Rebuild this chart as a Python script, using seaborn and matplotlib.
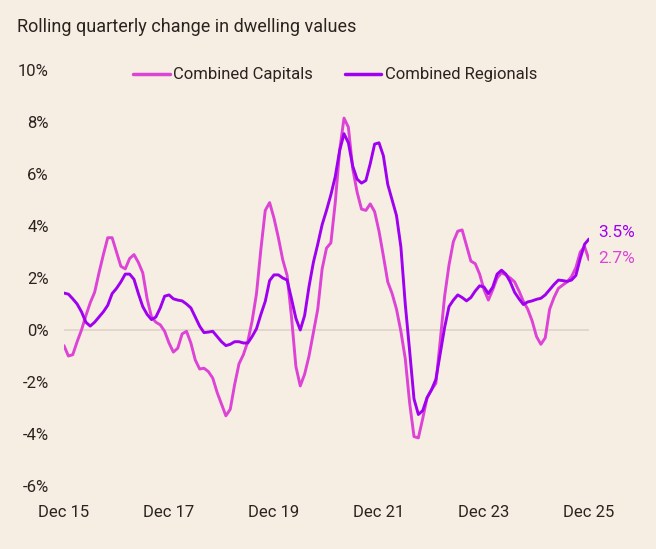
import matplotlib
matplotlib.use("Agg")
import matplotlib.pyplot as plt
import seaborn as sns
import pandas as pd
import numpy as np
from matplotlib.lines import Line2D

title = "Rolling quarterly change in dwelling values"
series_names = ["Combined Capitals", "Combined Regionals"]
tick_labels = ["Dec 15", "Dec 17", "Dec 19", "Dec 21", "Dec 23", "Dec 25"]
tick_months = [0, 24, 48, 72, 96, 120]
y_ticks = [-6, -4, -2, 0, 2, 4, 6, 8, 10]

capitals = [
    -0.6, -1.0, -0.95, -0.45, 0.0, 0.55, 1.05, 1.45, 2.2, 2.9, 3.55, 3.55,
    3.0, 2.45, 2.35, 2.75, 2.9, 2.6, 2.2, 1.2, 0.5, 0.3, 0.2, -0.05,
    -0.5, -0.85, -0.7, -0.15, -0.05, -0.5, -1.15, -1.5, -1.47, -1.6, -1.85, -2.4,
    -2.85, -3.3, -3.05, -2.1, -1.3, -0.95, -0.45, 0.35, 1.4, 3.1, 4.6, 4.9,
    4.3, 3.55, 2.7, 2.1, 0.5, -1.4, -2.15, -1.7, -1.0, -0.1, 0.8, 2.35,
    3.15, 3.35, 4.9, 6.9, 8.15, 7.8, 6.2, 5.3, 4.65, 4.6, 4.85, 4.55,
    3.8, 2.85, 1.85, 1.4, 0.8, -0.05, -1.1, -2.8, -4.1, -4.15, -3.4, -2.6,
    -2.3, -2.05, -0.4, 1.3, 2.5, 3.4, 3.8, 3.85, 3.25, 2.65, 2.55, 2.15,
    1.55, 1.15, 1.55, 2.0, 2.2, 2.12, 2.0, 1.85, 1.5, 1.1, 0.8, 0.35,
    -0.25, -0.55, -0.3, 0.8, 1.25, 1.6, 1.73, 1.85, 2.05, 2.4, 3.0, 3.2,
    2.7,
]
regionals = [
    1.42, 1.38, 1.2, 1.0, 0.7, 0.3, 0.15, 0.3, 0.5, 0.7, 0.95, 1.4,
    1.6, 1.85, 2.15, 2.15, 1.95, 1.4, 0.9, 0.6, 0.4, 0.5, 0.85, 1.3,
    1.35, 1.2, 1.15, 1.12, 1.0, 0.85, 0.5, 0.15, -0.1, -0.08, -0.05, -0.25,
    -0.45, -0.6, -0.55, -0.45, -0.45, -0.5, -0.5, -0.25, 0.05, 0.6, 1.1, 1.9,
    2.12, 2.12, 2.0, 1.92, 1.2, 0.45, 0.0, 0.56, 1.67, 2.6, 3.3, 4.05,
    4.6, 5.2, 5.9, 6.9, 7.55, 7.2, 6.3, 5.8, 5.65, 5.75, 6.4, 7.15,
    7.2, 6.7, 5.6, 5.0, 4.4, 3.2, 1.0, -0.8, -2.65, -3.25, -3.1, -2.6,
    -2.3, -1.9, -0.9, 0.1, 0.9, 1.15, 1.35, 1.25, 1.12, 1.25, 1.5, 1.7,
    1.65, 1.4, 1.65, 2.15, 2.3, 2.15, 1.85, 1.45, 1.2, 0.98, 1.08, 1.12,
    1.18, 1.22, 1.35, 1.55, 1.75, 1.92, 1.9, 1.87, 1.92, 2.1, 2.75, 3.3,
    3.5,
]

colors = {"Combined Capitals": "#dd44d6", "Combined Regionals": "#a000f0"}
bg = "#f7eee3"
text_color = "#2a2420"

months = np.arange(len(capitals))
df = pd.concat([
    pd.DataFrame({"month": months, "value": capitals, "series": series_names[0]}),
    pd.DataFrame({"month": months, "value": regionals, "series": series_names[1]}),
])

sns.set_theme(style="white")
plt.rcParams["font.family"] = ["Roboto", "DejaVu Sans"]

fig = plt.figure(figsize=(6.56, 5.49), dpi=100, facecolor=bg)
W, H = 656, 549
ax = fig.add_axes([64 / W, 1 - 486 / H, (589 - 64) / W, (486 - 70) / H])
ax.set_facecolor(bg)

ax.axhline(0, color="#ddd3c8", lw=1.2, zorder=1)
sns.lineplot(data=df, x="month", y="value", hue="series", palette=colors,
             hue_order=series_names, linewidth=2.1, ax=ax, legend=False, zorder=3)

ax.set_xlim(0, 120)
ax.set_ylim(-6, 10)
ax.set_xticks(tick_months)
ax.set_xticklabels(tick_labels)
ax.set_yticks(y_ticks)
ax.set_yticklabels([f"{v}%" for v in y_ticks])
ax.tick_params(axis="both", length=0, labelsize=12, colors=text_color)
ax.tick_params(axis="y", pad=11)
ax.tick_params(axis="x", pad=14)
ax.set_xlabel("")
ax.set_ylabel("")
for s in ax.spines.values():
    s.set_visible(False)

# end labels
ax.annotate(f"{regionals[-1]:.1f}%", xy=(months[-1], regionals[-1]), xytext=(7, 5),
            textcoords="offset points", color=colors["Combined Regionals"],
            fontsize=12.5, va="center", ha="left", annotation_clip=False)
ax.annotate(f"{capitals[-1]:.1f}%", xy=(months[-1], capitals[-1]), xytext=(7, 1),
            textcoords="offset points", color=colors["Combined Capitals"],
            fontsize=12.5, va="center", ha="left", annotation_clip=False)

handles = [Line2D([], [], color=colors[n], lw=2.5) for n in series_names]
fig.legend(handles, series_names, loc="center", bbox_to_anchor=(335 / W, 1 - 75 / H),
           ncol=2, frameon=False, fontsize=12, handlelength=2.2, handletextpad=0.2,
           columnspacing=1.9, labelcolor=text_color)

fig.text(17 / W, 1 - 27 / H, title, fontsize=13, color=text_color, ha="left", va="center")

fig.savefig("out.png", dpi=100, facecolor=bg)
